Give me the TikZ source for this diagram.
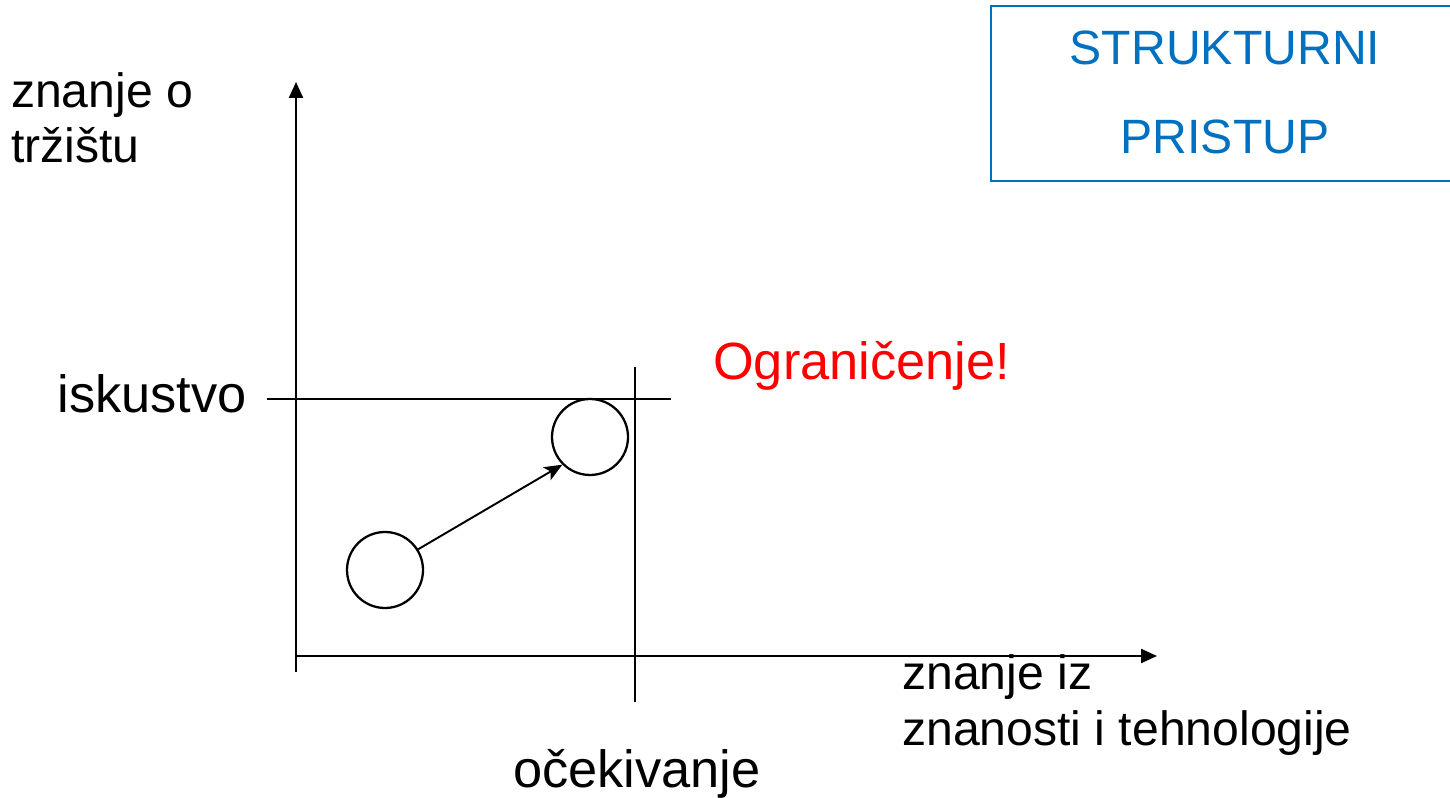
\documentclass[tikz,border=0pt]{standalone}
\usepackage{fontspec}
\setmainfont{Liberation Sans}
\usetikzlibrary{positioning, arrows.meta}
\definecolor{boxblue}{RGB}{0,112,192}

\begin{document}
\begin{tikzpicture}[line width=0.65pt,
        axis/.style={-{Triangle[length=1.6mm, width=1.4mm]}},
        blob/.style={draw, circle, minimum size=7.6mm, inner sep=0pt},
        bigtxt/.style={font=\fontsize{14.9}{18}\selectfont, inner sep=0pt},
        smalltxt/.style={font=\fontsize{13.7}{15.9}\selectfont, inner sep=0pt, align=left}]
        \useasboundingbox (0,0) rectangle (14.5,7.97);
        \clip (0,0) rectangle (14.5,7.97);
        % axes
        \coordinate (o) at (2.96,1.41);
        \coordinate (ytop) at (2.96,7.15);
        \coordinate (ybot) at (2.96,1.25);
        \coordinate (xend) at (11.57,1.41);
        \draw[axis] (ybot) -- (ytop);
        \draw[axis] (o) -- (xend);
        % limit lines
        \coordinate (h1) at (2.67,3.98);
        \coordinate (h2) at (6.71,3.98);
        \coordinate (v1) at (6.35,4.30);
        \coordinate (v2) at (6.35,0.95);
        \draw (h1) -- (h2);
        \draw (v1) -- (v2);
        % circles
        \node[blob] (c1) at (3.85,2.27) {};
        \node[blob] (c2) at (5.90,3.60) {};
        \draw[-{Stealth[length=1.8mm, width=1.5mm, inset=0.45mm]}, line width=0.55pt] (c1.32) -- (c2.225);
        % labels
        \node[smalltxt, anchor=base west] (ylab) at (0.10,6.34) {znanje o\\tržištu};
        \node[smalltxt, anchor=base west] (xlab) at (9.01,0.52) {znanje iz\\znanosti i tehnologije};
        \node[bigtxt, anchor=base east] (isk) at (2.48,3.84) {iskustvo};
        \node[bigtxt, anchor=base] (exp) at (6.37,0.10) {očekivanje};
        \node[bigtxt, anchor=base west, text=red] (limit) at (7.12,4.17) {Ograničenje!};
        % title box
        \node[draw=boxblue, minimum width=4.68cm, minimum height=1.75cm] (title) at (12.25,7.035) {};
        \node[text=boxblue, align=center, inner sep=0pt, font=\fontsize{13.7}{25.4}\selectfont,
            yshift=0.01cm] (titletxt) at (title) {STRUKTURNI\\PRISTUP};
\end{tikzpicture}
\end{document}
